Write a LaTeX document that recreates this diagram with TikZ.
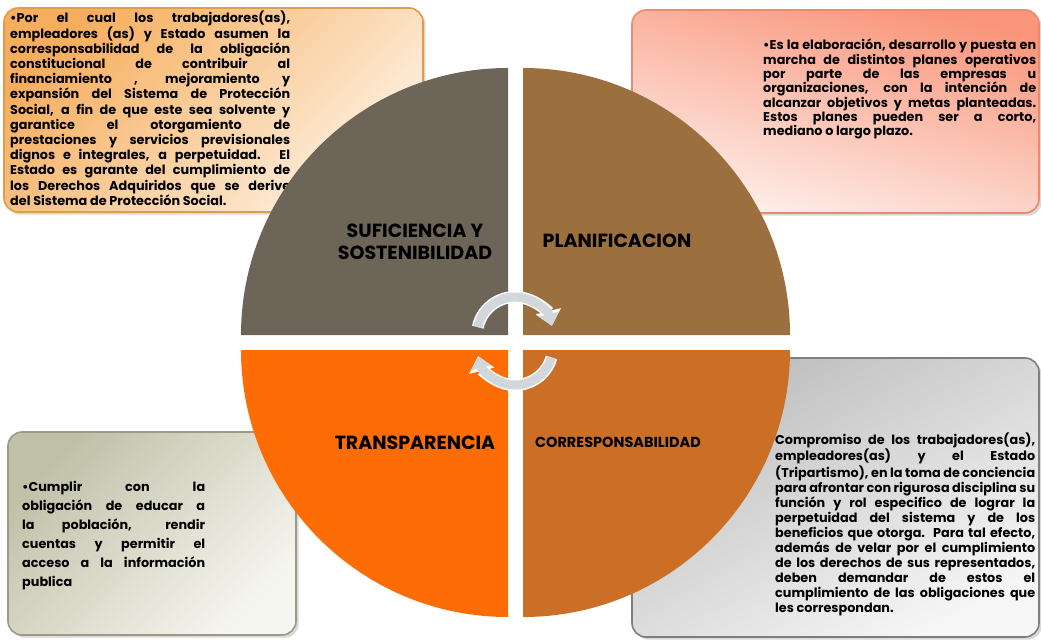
\documentclass[tikz,border=0pt]{standalone}
\usepackage{fontspec}
\setmainfont{Poppins}
\usetikzlibrary{arrows.meta,shadows}
\definecolor{qTL}{HTML}{6D6558}
\definecolor{qTR}{HTML}{9C6F3E}
\definecolor{qBL}{HTML}{FD6C05}
\definecolor{qBR}{HTML}{CB6E26}
\definecolor{arrowgray}{HTML}{D2D7DC}
\definecolor{tlA}{HTML}{F6AE5E}
\definecolor{tlB}{HTML}{FEF1E2}
\definecolor{tlEdge}{HTML}{DE9C4E}
\definecolor{trA}{HTML}{F9957A}
\definecolor{trB}{HTML}{FEF0EC}
\definecolor{trEdge}{HTML}{EA8A70}
\definecolor{brA}{HTML}{BDBDBD}
\definecolor{brB}{HTML}{F6F6F6}
\definecolor{brEdge}{HTML}{7E7E7E}
\definecolor{blA}{HTML}{C0C0A8}
\definecolor{blB}{HTML}{F6F6F0}
\definecolor{blEdge}{HTML}{9A9A86}

\begin{document}
\begin{tikzpicture}[x=1pt,y=1pt,
  box/.style={draw,line width=1.6pt,rounded corners=14pt,drop shadow={opacity=.3}},
  txt/.style={anchor=north west,inner sep=0pt,align=justify},
  lab/.style={font=\bfseries\fontsize{19}{22}\selectfont,align=center,inner sep=0pt},
  arwb/.style={line width=12pt,draw=white,-{Triangle[width=25pt,length=15pt]}},
  arw/.style={line width=9pt,draw=arrowgray,-{Triangle[width=20pt,length=12pt]}}]
\useasboundingbox (0,0) rectangle (1041,641);

% boxes behind the circle
\node[box,draw=tlEdge,top color=tlA,bottom color=tlB,shading angle=45,
  minimum width=419,minimum height=204] (b_1) at (213.5,531) {};
\node[box,draw=trEdge,top color=trA,bottom color=trB,shading angle=-15,
  minimum width=407,minimum height=203] (b_2) at (835.5,529.5) {};
\node[box,draw=brEdge,top color=brA,bottom color=brB,shading angle=30,
  minimum width=407,minimum height=279] (b_3) at (835.5,143.5) {};
\node[box,draw=blEdge,top color=blA,bottom color=blB,shading angle=45,
  minimum width=288,minimum height=203] (b_4) at (152,107.5) {};

% texts
\node[txt,text width=280,font=\bfseries\fontsize{12.8}{15.2}\selectfont] (t_1) at (10,630) {%
\textbullet Por el cual los trabajadores(as),\linebreak
empleadores (as) y Estado asumen la\linebreak
corresponsabilidad de la obligación\linebreak
constitucional de contribuir al\linebreak
financiamiento , mejoramiento y\linebreak
expansión del Sistema de Protección\linebreak
Social, a fin de que este sea solvente y\linebreak
garantice el otorgamiento de\linebreak
prestaciones y servicios previsionales\linebreak
dignos e integrales, a perpetuidad. El\linebreak
Estado es garante del cumplimiento de\linebreak
los Derechos Adquiridos que se derive\linebreak
del Sistema de Protección Social.};
\node[txt,text width=273,font=\bfseries\fontsize{12.8}{14.3}\selectfont] (t_2) at (763,602) {%
\textbullet Es la elaboración, desarrollo y puesta en\linebreak
marcha de distintos planes operativos\linebreak
por parte de las empresas u\linebreak
organizaciones, con la intención de\linebreak
alcanzar objetivos y metas planteadas.\linebreak
Estos planes pueden ser a corto,\linebreak
mediano o largo plazo.};
\node[txt,text width=260,font=\bfseries\fontsize{12.8}{15}\selectfont] (t_3) at (775,208) {%
Compromiso de los trabajadores(as),\linebreak
empleadores(as) y el Estado\linebreak
(Tripartismo), en la toma de conciencia\linebreak
para afrontar con rigurosa disciplina su\linebreak
función y rol especifico de lograr la\linebreak
perpetuidad del sistema y de los\linebreak
beneficios que otorga. Para tal efecto,\linebreak
además de velar por el cumplimiento\linebreak
de los derechos de sus representados,\linebreak
deben demandar de estos el\linebreak
cumplimiento de las obligaciones que\linebreak
les correspondan.};
\node[txt,text width=183,font=\bfseries\fontsize{12.8}{19}\selectfont] (t_4) at (22,160) {%
\textbullet Cumplir con la\linebreak
obligación de educar a\linebreak
la población, rendir\linebreak
cuentas y permitir el\linebreak
acceso a la información\linebreak
publica};

% the four quarters
\fill[qTL] (508,306) -- ++(180:267) arc[start angle=180,end angle=90,radius=267] -- cycle;
\fill[qTR] (523,306) -- ++(90:267) arc[start angle=90,end angle=0,radius=267] -- cycle;
\fill[qBL] (508,291) -- ++(270:267) arc[start angle=270,end angle=180,radius=267] -- cycle;
\fill[qBR] (523,291) -- ++(0:267) arc[start angle=0,end angle=-90,radius=267] -- cycle;

% labels
\node[lab] (l_1) at (415,399) {SUFICIENCIA Y\\SOSTENIBILIDAD};
\node[lab] (l_2) at (617,400) {PLANIFICACION};
\node[lab] (l_3) at (415,198) {TRANSPARENCIA};
\node[lab,font=\bfseries\fontsize{14.5}{17}\selectfont] (l_4) at (618,199) {CORRESPONSABILIDAD};

% turning arrows
\coordinate (c_1) at (515,306);
\coordinate (c_2) at (515,294);
\draw[arwb] (c_1) ++(168:38) arc[start angle=168,end angle=14,radius=38];
\draw[arw]  (c_1) ++(168:38) arc[start angle=168,end angle=14,radius=38];
\draw[arwb] (c_2) ++(-16:38) arc[start angle=-16,end angle=-166,radius=38];
\draw[arw]  (c_2) ++(-16:38) arc[start angle=-16,end angle=-166,radius=38];
\end{tikzpicture}
\end{document}
